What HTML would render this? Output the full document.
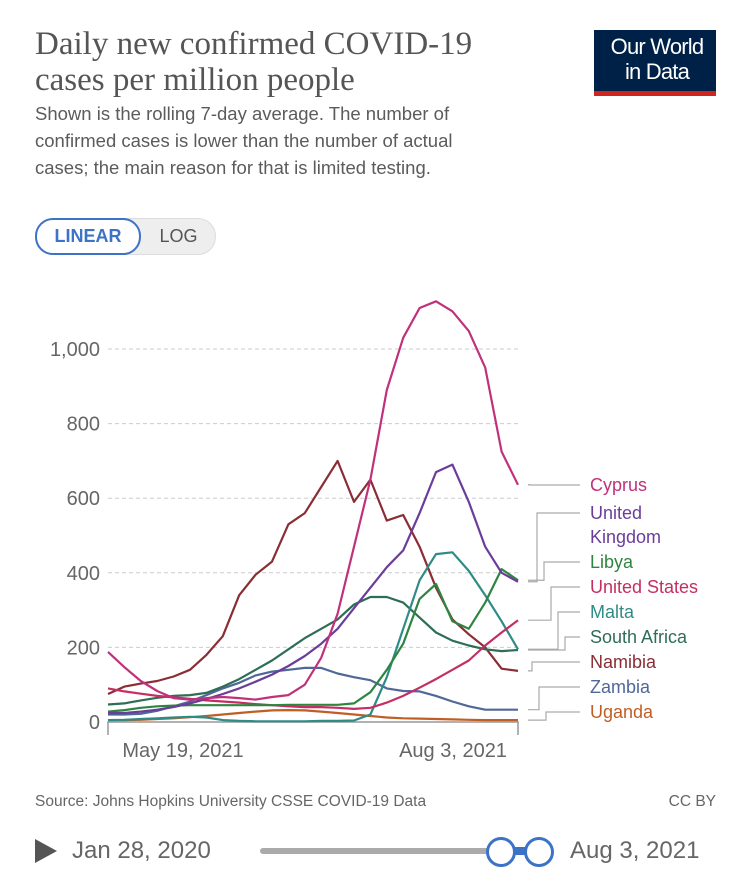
<!DOCTYPE html>
<html><head><meta charset="utf-8">
<style>
body{margin:0;background:#fff;width:750px;height:883px;overflow:hidden;font-family:"Liberation Sans",sans-serif;}
.t{position:absolute;white-space:nowrap}
</style></head>
<body>
<div class="t" style="left:35px;top:26px;font-family:'Liberation Serif',serif;font-size:33px;line-height:36px;color:#555">Daily new confirmed COVID-19<br>cases per million people</div>
<div class="t" style="left:35px;top:100px;font-size:18.5px;line-height:27px;color:#5b5b5b">Shown is the rolling 7-day average. The number of<br>confirmed cases is lower than the number of actual<br>cases; the main reason for that is limited testing.</div>
<div style="position:absolute;left:594px;top:30px;width:122px;height:66px;background:#002147;border-bottom:5px solid #ce261e;box-sizing:border-box;color:#fff;font-size:22px;line-height:25px;padding:4px 0 0 4px;letter-spacing:-0.8px;text-align:center">Our World<br>in Data</div>
<div style="position:absolute;left:35px;top:218px;width:181px;height:37px;border-radius:18px;background:#eee;border:1px solid #ddd;box-sizing:border-box"></div>
<div class="t" style="left:35px;top:218px;width:106px;height:37px;border:2px solid #3c73c7;border-radius:18px;background:#fff;box-sizing:border-box;color:#3c73c7;font-weight:bold;font-size:18px;line-height:33px;text-align:center">LINEAR</div>
<div class="t" style="left:141px;top:218px;width:75px;height:37px;color:#555;font-size:18px;line-height:37px;text-align:center">LOG</div>
<svg id="chart" width="750" height="883" style="position:absolute;left:0;top:0"></svg>
<div class="t" style="left:35px;top:793px;font-size:15.5px;color:#666">Source: Johns Hopkins University CSSE COVID-19 Data</div>
<div class="t" style="right:34px;top:793px;font-size:15.5px;color:#666">CC BY</div>
<div style="position:absolute;left:35px;top:839px;width:0;height:0;border-top:12px solid transparent;border-bottom:12px solid transparent;border-left:22px solid #555"></div>
<div class="t" style="left:72px;top:837px;font-size:24px;color:#666">Jan 28, 2020</div>
<div style="position:absolute;left:260px;top:848px;width:280px;height:6px;background:#aaa;border-radius:3px"></div>
<div style="position:absolute;left:500px;top:847px;width:38px;height:8px;background:#3c73c7"></div>
<div style="position:absolute;left:486px;top:837px;width:24px;height:24px;border:3px solid #3c73c7;border-radius:50%;background:#fff"></div>
<div style="position:absolute;left:524px;top:837px;width:24px;height:24px;border:3px solid #3c73c7;border-radius:50%;background:#fff"></div>
<div class="t" style="left:570px;top:837px;font-size:24px;color:#666">Aug 3, 2021</div>
<script>
const yTicks=[0,200,400,600,800,1000];
const yTickLabels=["0","200","400","600","800","1,000"];
const xTickLabels=["May 19, 2021","Aug 3, 2021"];
const countries=["Cyprus","United Kingdom","Libya","United States","Malta","South Africa","Namibia","Zambia","Uganda"];
const colors=["#c0317c","#6a3d9a","#2e8540","#c42e63","#2f8b85","#2e6e55","#8a2d35","#4f6898","#c15e25"];
const cyprus=[188,147,110,83,64,60,64,67,64,60,67,72,100,172,290,470,650,890,1030,1110,1128,1101,1048,950,725,636];
const uk=[24,24,28,33,40,50,62,75,90,108,127,150,177,210,250,305,360,415,460,560,670,690,590,470,400,376];
const libya=[28,32,38,42,44,45,45,45,45,45,45,46,46,46,46,50,80,140,210,330,370,270,250,320,410,380];
const us=[90,82,76,70,66,62,58,55,52,48,45,42,40,40,38,35,38,52,70,92,115,140,165,205,240,273];
const malta=[5,6,8,10,12,14,12,5,3,2,2,2,2,3,3,4,20,120,250,380,450,455,405,340,270,195];
const southAfrica=[47,50,58,65,70,72,78,95,115,140,165,195,225,250,275,315,335,335,320,280,240,218,205,195,190,193];
const namibia=[75,95,103,110,122,140,180,230,340,395,430,530,560,630,700,590,650,540,555,470,360,275,235,200,143,137];
const zambia=[20,20,22,30,42,55,72,90,105,125,135,140,145,145,130,120,112,90,83,82,70,55,42,33,33,33];
const uganda=[5,5,6,8,10,13,16,20,24,28,31,32,31,28,24,20,16,12,10,9,8,7,6,5,5,5];
const series=[cyprus,uk,libya,us,malta,southAfrica,namibia,zambia,uganda];
const labelY=[485,513,562,587,612,637,662,687,712];
const NS="http://www.w3.org/2000/svg";
const svg=document.getElementById('chart');
const x0=108,x1=518,y0=722,yScale=0.373;
const n=cyprus.length;
const X=i=>x0+(x1-x0)*i/(n-1);
const Y=v=>y0-v*yScale;
function mk(tag,at){const e=document.createElementNS(NS,tag);for(const k in at)e.setAttribute(k,at[k]);svg.appendChild(e);return e;}
yTicks.forEach((t,i)=>{
 if(t>0){const g=mk('line',{x1:x0,x2:x1,y1:Y(t),y2:Y(t),stroke:'#ccc','stroke-dasharray':'4,3'});
 
 }
 const l=mk('text',{x:100,y:Y(t)+7,'text-anchor':'end','font-size':'20','fill':'#666','font-family':'Liberation Sans'});
 l.textContent=yTickLabels[i];
 
 
});
const ax=mk('path',{d:`M${x0} ${y0+13}V${y0}H${x1}V${y0+13}`,stroke:'#999',fill:'none','stroke-width':1.5});


[[183,0],[453,1]].forEach(([cx,i])=>{
 const l=mk('text',{x:cx,y:757,'text-anchor':'middle','font-size':'20','fill':'#666','font-family':'Liberation Sans'});
 l.textContent=xTickLabels[i];
 
 
});
for(let s=series.length-1;s>=0;s--){
 const d=series[s].map((v,i)=>(i?'L':'M')+X(i).toFixed(1)+' '+Y(v).toFixed(1)).join('');
 const p=mk('path',{d:d,stroke:colors[s],fill:'none','stroke-width':2.2,'stroke-linejoin':'round'});
 
 
}
series.forEach((arr,s)=>{
 const ey=Y(arr[n-1]),ly=labelY[s], mx=530+((s*7)%40);
 const c=mk('path',{d:`M${x1+10} ${ey}H${mx}V${ly}H580`,stroke:'#aaa',fill:'none','stroke-width':1.2});
 
 
 const t=mk('text',{x:590,y:labelY[s]+6,'font-size':'18','fill':colors[s],'font-family':'Liberation Sans'});
 if(countries[s]==='United Kingdom'){
  t.setAttribute('y',labelY[s]+6);
  const a=document.createElementNS(NS,'tspan');a.setAttribute('x',590);a.textContent='United';t.appendChild(a);
  const b=document.createElementNS(NS,'tspan');b.setAttribute('x',590);b.setAttribute('dy','24');b.textContent='Kingdom';t.appendChild(b);
 } else t.textContent=countries[s];
 
 
});
</script>
</body></html>
